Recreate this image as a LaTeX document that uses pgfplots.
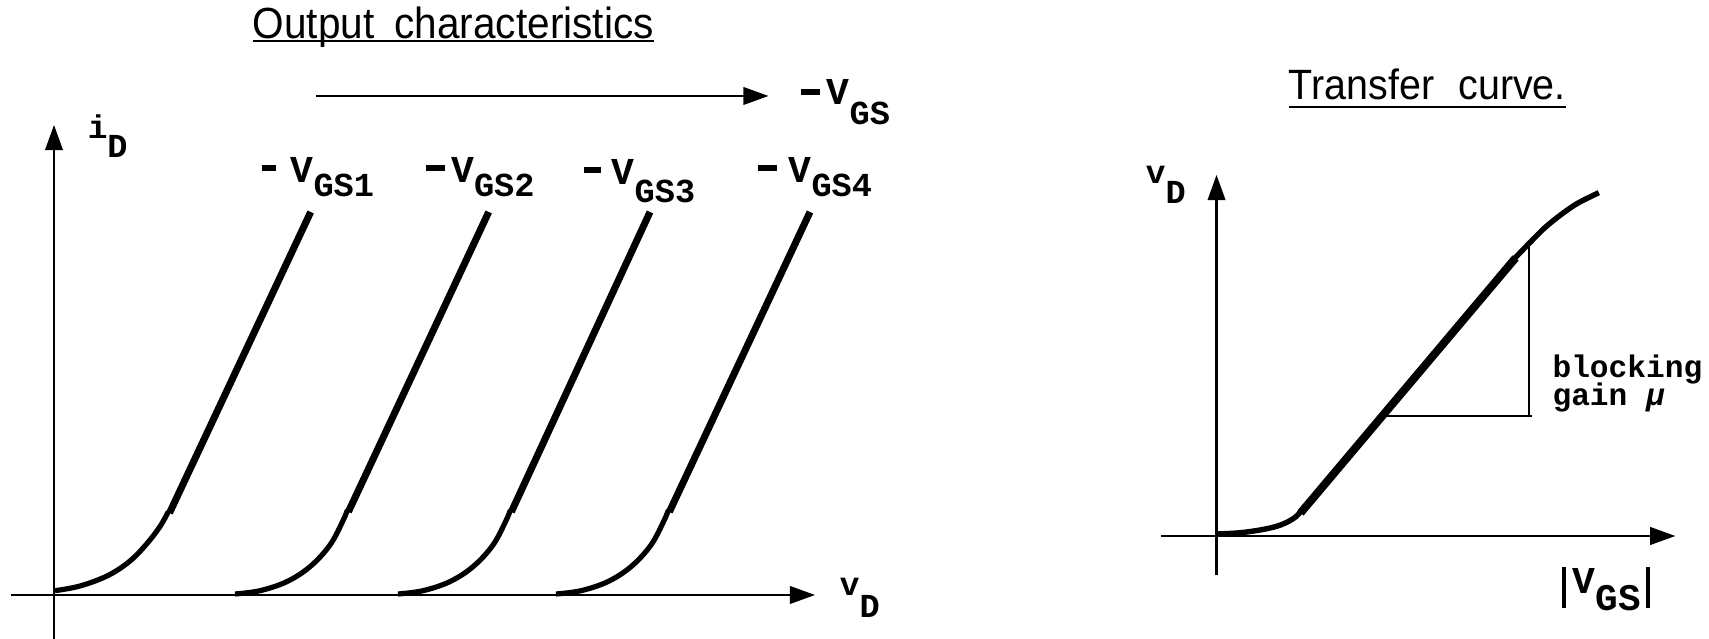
\documentclass[border=0pt]{standalone}
\usepackage{fontspec}
\usepackage{pgfplots}
\pgfplotsset{compat=1.18}
\usetikzlibrary{arrows.meta}
\setmainfont{Liberation Sans}
\newfontfamily\titlefont{Liberation Sans}[FakeStretch=0.93]
\newfontfamily\labA{Liberation Mono}
\newcommand\Lg[1]{{\labA\bfseries\fontsize{9.5}{10}\selectfont #1}}
\newcommand\Lm[1]{{\labA\bfseries\fontsize{8.2}{9}\selectfont #1}}
\newcommand\Ls[1]{{\labA\bfseries\fontsize{8.4}{9}\selectfont #1}}
\newcommand\Lt[1]{{\labA\bfseries\fontsize{7.8}{9}\selectfont #1}}
\newcommand\mn[2]{\rule[#2]{#1}{1.5pt}}
\newsavebox\ubox
\newcommand\ul[2]{\sbox\ubox{#2}\rlap{\rule[#1]{\wd\ubox}{0.5pt}}\usebox\ubox}
\tikzset{tri/.style={-{Triangle[length=6.3pt,width=4.4pt]}}}
\begin{document}
\begin{tikzpicture}
\useasboundingbox (0,0) rectangle (427.25pt,159.75pt);
% ---------------- Output characteristics ----------------
\begin{axis}[
  at={(2.75pt,0pt)}, anchor=south west,
  x=0.25pt, y=0.25pt,
  xmin=-43, xmax=761, ymin=-44, ymax=470,
  axis lines=middle,
  axis line style={line width=0.55pt, tri},
  xtick=\empty, ytick=\empty,
  clip=false,
]
% square-law parts
\addplot[line width=1.3pt, smooth, tension=0.6] coordinates {(1,4.3)(26,9)(54,19.5)(76,34)(93,51.5)(106,68.5)(114.3,83.3)};
\addplot[line width=1.3pt, smooth, tension=0.6] coordinates {(181,1)(206,4.3)(232.7,13.3)(256,28.3)(276,50)(289.3,75)(293.3,85)};
\addplot[line width=1.3pt, smooth, tension=0.6] coordinates {(344,1)(369,4.3)(395.7,13.3)(419,28.3)(439,50)(452.3,75)(456.3,85)};
\addplot[line width=1.3pt, smooth, tension=0.6] coordinates {(502,1)(527,4.3)(553.7,13.3)(577,28.3)(597,50)(610.3,75)(614.3,85)};
% linear parts
\addplot[line width=1.75pt] coordinates {(115.5,82)(256.7,383)};
\addplot[line width=1.75pt] coordinates {(294.3,83)(434.7,383)};
\addplot[line width=1.75pt] coordinates {(457.3,83)(596,383)};
\addplot[line width=1.75pt] coordinates {(615.3,83)(756,383)};
% -V_GS direction arrow
\addplot[line width=0.55pt, tri] coordinates {(262,499)(714.5,499)};
% labels
\node[anchor=base, inner sep=0] at (axis cs:399.2,556.7)
  {\titlefont\fontsize{10.9}{12}\selectfont\ul{-1pt}{Output\hspace{2.2pt} characteristics}};
\node[anchor=base west, inner sep=0] at (axis cs:33,456) {\Lm{i}\raisebox{-4.7pt}{\Ls{D}}};
\node[anchor=base west, inner sep=0] at (axis cs:785,-1) {\Lm{v}\raisebox{-5.5pt}{\Ls{D}}};
\node[anchor=base west, inner sep=0] at (axis cs:746,490) {\mn{4.9pt}{2.4pt}\hspace{1.6pt}\Lg{V}\raisebox{-4.9pt}{\Ls{GS}}};
\node[anchor=base west, inner sep=0] at (axis cs:206.7,412) {\mn{3.6pt}{3pt}\hspace{3.7pt}\Lg{V}\raisebox{-3.3pt}{\Ls{GS1}}};
\node[anchor=base west, inner sep=0] at (axis cs:371,412) {\mn{4.75pt}{3pt}\hspace{1.6pt}\Lg{V}\raisebox{-3.3pt}{\Ls{GS2}}};
\node[anchor=base west, inner sep=0] at (axis cs:529.3,410) {\mn{4.25pt}{3pt}\hspace{2.7pt}\Lg{V}\raisebox{-4.4pt}{\Ls{GS3}}};
\node[anchor=base west, inner sep=0] at (axis cs:703.5,412) {\mn{4.6pt}{3pt}\hspace{3pt}\Lg{V}\raisebox{-3.4pt}{\Ls{GS4}}};
\end{axis}
% ---------------- Transfer curve ----------------
\begin{axis}[
  at={(290.2pt,15.875pt)}, anchor=south west,
  x=0.25pt, y=0.25pt,
  xmin=-55.7, xmax=458.8, ymin=-39.5, ymax=361,
  axis lines=middle,
  axis line style={line width=0.55pt, tri},
  xtick=\empty, ytick=\empty,
  clip=false,
]
\addplot[line width=1.35pt, smooth, tension=0.6] coordinates {(0.5,2)(24,3.3)(47.3,6.7)(64,11)(77.3,17.7)(84,24.3)};
\addplot[line width=2pt] coordinates {(84,23)(299,278)};
\addplot[line width=1.35pt, smooth, tension=0.5] coordinates {(298,277.5)(312,292)(328,308)(344,321)(361,332.7)(382.3,343.3)};
\addplot[line width=0.55pt] coordinates {(312.3,290)(312.3,119.6)};
\addplot[line width=0.55pt] coordinates {(165,119.6)(315,119.6)};
\node[anchor=base, inner sep=0] at (axis cs:210.8,436.7)
  {\titlefont\fontsize{10.6}{12}\selectfont\ul{-2.3pt}{Transfer\hspace{3.3pt} curve.}};
\node[anchor=base west, inner sep=0] at (axis cs:-71.5,352) {\Lm{v}\raisebox{-5pt}{\Ls{D}}};
\node[anchor=base west, inner sep=0] at (axis cs:344.5,-58)
  {\rule[-3.4pt]{1.15pt}{10.2pt}\hspace{1.6pt}\Lg{V}\raisebox{-4.2pt}{{\labA\bfseries\fontsize{9.4}{10}\selectfont GS}}\hspace{1.2pt}\rule[-3.4pt]{1.15pt}{10.2pt}};
\node[anchor=base west, inner sep=0] at (axis cs:335.2,158) {\Lt{blocking}};
\node[anchor=base west, inner sep=0] at (axis cs:335.2,130) {\Lt{gain {\itshape μ}}};
\end{axis}
\end{tikzpicture}
\end{document}
